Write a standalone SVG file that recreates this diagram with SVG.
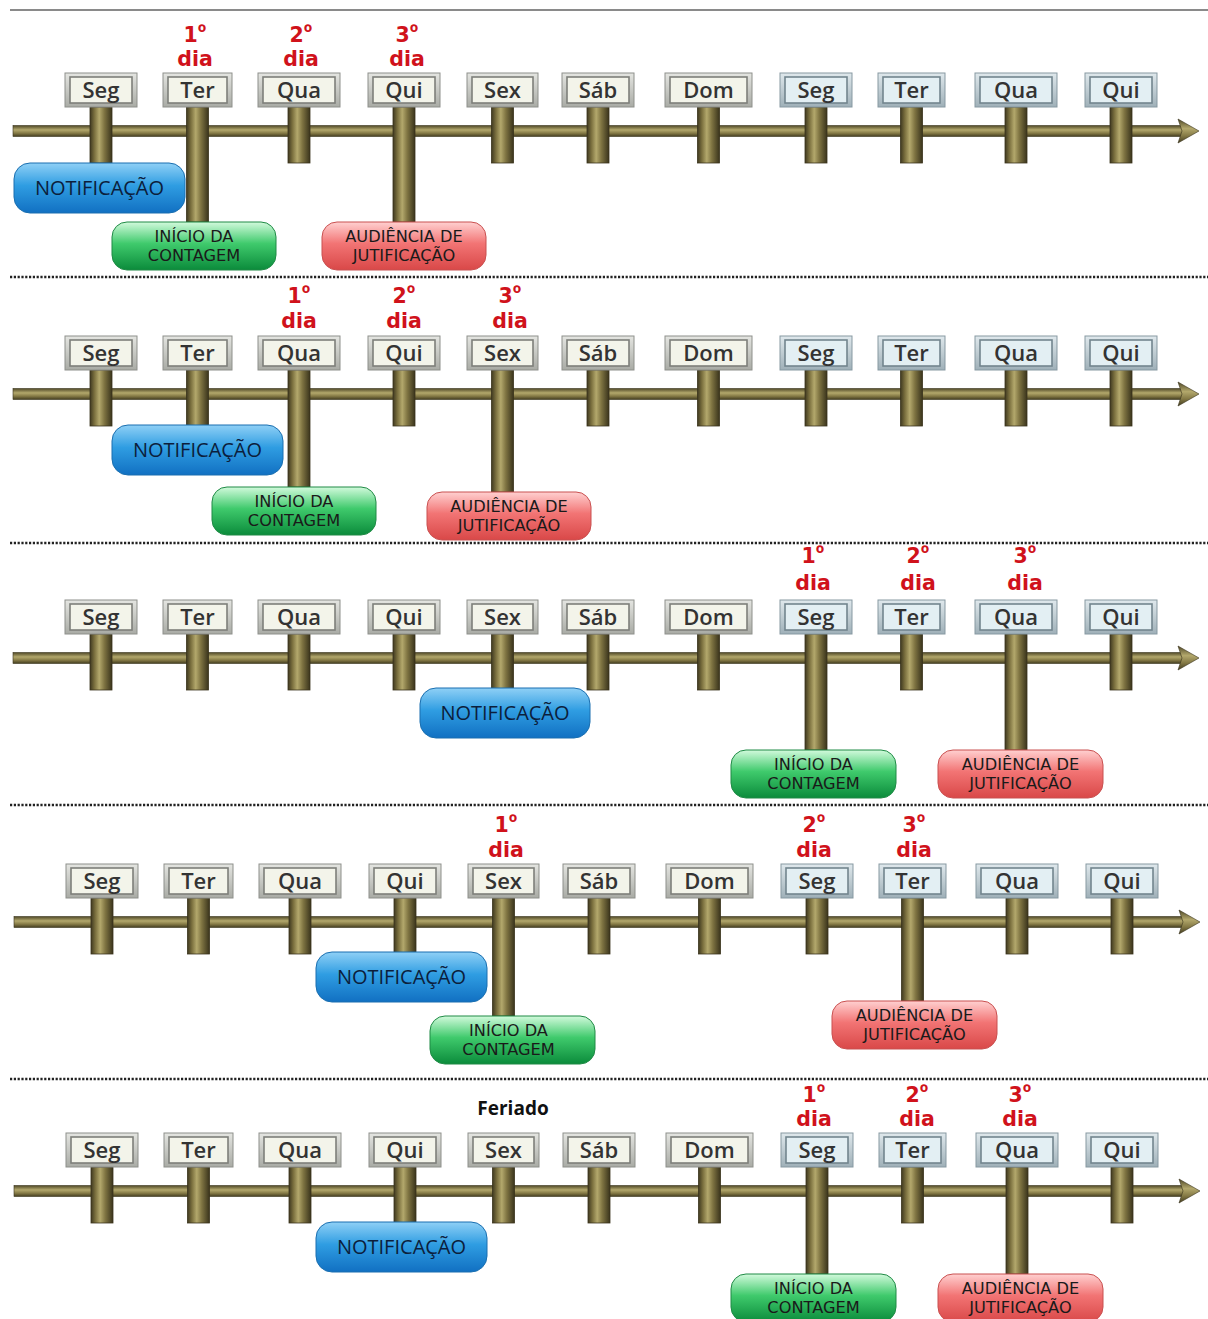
<svg xmlns="http://www.w3.org/2000/svg" width="1208" height="1319" viewBox="0 0 1208 1319">
  <defs>
    <linearGradient id="gPost" x1="0" y1="0" x2="1" y2="0">
      <stop offset="0" stop-color="#3f3920"/>
      <stop offset="0.2" stop-color="#7a6f3e"/>
      <stop offset="0.42" stop-color="#b3a86c"/>
      <stop offset="0.65" stop-color="#7f7442"/>
      <stop offset="1" stop-color="#3a341c"/>
    </linearGradient>
    <linearGradient id="gAxis" x1="0" y1="0" x2="0" y2="1">
      <stop offset="0" stop-color="#4f4827"/>
      <stop offset="0.4" stop-color="#b3a86c"/>
      <stop offset="0.7" stop-color="#847945"/>
      <stop offset="1" stop-color="#433d20"/>
    </linearGradient>
    <linearGradient id="gBlue" x1="0" y1="0" x2="0" y2="1">
      <stop offset="0" stop-color="#8fd0f6"/>
      <stop offset="0.45" stop-color="#2f9de2"/>
      <stop offset="1" stop-color="#1170c2"/>
    </linearGradient>
    <linearGradient id="gGreen" x1="0" y1="0" x2="0" y2="1">
      <stop offset="0" stop-color="#d2fadc"/>
      <stop offset="0.45" stop-color="#3fca6c"/>
      <stop offset="1" stop-color="#0b8b3b"/>
    </linearGradient>
    <linearGradient id="gRed" x1="0" y1="0" x2="0" y2="1">
      <stop offset="0" stop-color="#ffd0d0"/>
      <stop offset="0.45" stop-color="#f27474"/>
      <stop offset="1" stop-color="#d94848"/>
    </linearGradient>
    <linearGradient id="gFrame" x1="0" y1="0" x2="0" y2="1">
      <stop offset="0" stop-color="#e4e5e1"/>
      <stop offset="1" stop-color="#a9aba5"/>
    </linearGradient>
    <linearGradient id="gFrameB" x1="0" y1="0" x2="0" y2="1">
      <stop offset="0" stop-color="#dfe8ec"/>
      <stop offset="1" stop-color="#9fb0b8"/>
    </linearGradient>
  </defs>
  <style>
    .post { fill: url(#gPost); stroke: #3a341c; stroke-width: 0.8; }
    .axis { fill: url(#gAxis); stroke: #3a341c; stroke-width: 0.6; }
    .frame { fill: url(#gFrame); stroke: #8e908b; stroke-width: 1; }
    .frameB { fill: url(#gFrameB); stroke: #8799a2; stroke-width: 1; }
    .inner { fill: #f3f4ea; stroke: #7d7f7a; stroke-width: 1.6; }
    .innerB { fill: #e3eff3; stroke: #72858e; stroke-width: 1.6; }
    .day { font-family: "Open Sans", "Liberation Sans", sans-serif; font-weight: 600; font-size: 22px; fill: #333333; text-anchor: middle; }
    .ord { font-family: "DejaVu Sans", "Liberation Sans", sans-serif; font-weight: 700; font-size: 20.5px; fill: #d0121b; text-anchor: middle; }
    .deg { font-family: "Open Sans", "DejaVu Sans", sans-serif; font-size: 22px; }
    .pill-b { fill: url(#gBlue); stroke: #1a6fb0; stroke-width: 1; }
    .pill-g { fill: url(#gGreen); stroke: #1f8a45; stroke-width: 1; }
    .pill-r { fill: url(#gRed); stroke: #c95050; stroke-width: 1; }
    .tb { font-family: "Open Sans", "Liberation Sans", sans-serif; font-size: 20px; fill: #0c1e3c; text-anchor: middle; }
    .tp { font-family: "DejaVu Sans", "Liberation Sans", sans-serif; font-size: 16.2px; fill: #1a1a1a; text-anchor: middle; }
    .sep { stroke: #222222; stroke-width: 2.6; stroke-dasharray: 2.2 1.6; fill: none; }
    .feriado { font-family: "Open Sans", "Liberation Sans", sans-serif; font-weight: 700; font-size: 19px; fill: #111111; text-anchor: middle; }
  </style>

  <rect x="0" y="0" width="1208" height="1319" fill="#ffffff"/>
  <line x1="10" y1="10" x2="1208" y2="10" stroke="#8a8a8a" stroke-width="2"/>

  <!-- separators between the five timelines -->
  <g id="separators">
    <line class="sep" x1="10" y1="277" x2="1208" y2="277"/>
    <line class="sep" x1="10" y1="543" x2="1208" y2="543"/>
    <line class="sep" x1="10" y1="805" x2="1208" y2="805"/>
    <line class="sep" x1="10" y1="1079" x2="1208" y2="1079"/>
  </g>

  <!-- ===== Timeline 1 ===== -->
  <g id="timeline1" transform="translate(0,73)">
    <g id="t1-connectors">
      <rect class="axis" x="13" y="52.5" width="1170" height="11"/>
      <polygon class="axis" points="1178,46 1199,58 1178,70 1182,58"/>
      <rect class="post" x="90" y="34" width="22" height="56"/>
      <rect class="post" x="186.5" y="34" width="22" height="115"/>
      <rect class="post" x="288" y="34" width="22" height="56"/>
      <rect class="post" x="393" y="34" width="22" height="115"/>
      <rect class="post" x="491.5" y="34" width="22" height="56"/>
      <rect class="post" x="587" y="34" width="22" height="56"/>
      <rect class="post" x="697.5" y="34" width="22" height="56"/>
      <rect class="post" x="805" y="34" width="22" height="56"/>
      <rect class="post" x="900.5" y="34" width="22" height="56"/>
      <rect class="post" x="1005" y="34" width="22" height="56"/>
      <rect class="post" x="1110" y="34" width="22" height="56"/>
    </g>
    <g id="t1-days">
      <g id="t1-seg"><rect class="frame" x="65" y="0" width="72" height="34"/><rect class="inner" x="70" y="4" width="62" height="26"/><text class="day" x="101" y="25">Seg</text></g>
      <g id="t1-ter"><rect class="frame" x="163" y="0" width="69" height="34"/><rect class="inner" x="168" y="4" width="59" height="26"/><text class="day" x="197.5" y="25">Ter</text></g>
      <g id="t1-qua"><rect class="frame" x="258" y="0" width="82" height="34"/><rect class="inner" x="263" y="4" width="72" height="26"/><text class="day" x="299" y="25">Qua</text></g>
      <g id="t1-qui"><rect class="frame" x="368" y="0" width="72" height="34"/><rect class="inner" x="373" y="4" width="62" height="26"/><text class="day" x="404" y="25">Qui</text></g>
      <g id="t1-sex"><rect class="frame" x="467" y="0" width="71" height="34"/><rect class="inner" x="472" y="4" width="61" height="26"/><text class="day" x="502.5" y="25">Sex</text></g>
      <g id="t1-sab"><rect class="frame" x="562" y="0" width="72" height="34"/><rect class="inner" x="567" y="4" width="62" height="26"/><text class="day" x="598" y="25">Sáb</text></g>
      <g id="t1-dom"><rect class="frame" x="665" y="0" width="87" height="34"/><rect class="inner" x="670" y="4" width="77" height="26"/><text class="day" x="708.5" y="25">Dom</text></g>
      <g id="t1-seg2"><rect class="frameB" x="780" y="0" width="72" height="34"/><rect class="innerB" x="785" y="4" width="62" height="26"/><text class="day" x="816" y="25">Seg</text></g>
      <g id="t1-ter2"><rect class="frameB" x="878" y="0" width="67" height="34"/><rect class="innerB" x="883" y="4" width="57" height="26"/><text class="day" x="911.5" y="25">Ter</text></g>
      <g id="t1-qua2"><rect class="frameB" x="975" y="0" width="82" height="34"/><rect class="innerB" x="980" y="4" width="72" height="26"/><text class="day" x="1016" y="25">Qua</text></g>
      <g id="t1-qui2"><rect class="frameB" x="1085" y="0" width="72" height="34"/><rect class="innerB" x="1090" y="4" width="62" height="26"/><text class="day" x="1121" y="25">Qui</text></g>
    </g>
    <g id="t1-count">
      <text class="ord" x="195" y="-31">1<tspan class="deg" dy="-2">º</tspan><tspan x="195" dy="26">dia</tspan></text>
      <text class="ord" x="301" y="-31">2<tspan class="deg" dy="-2">º</tspan><tspan x="301" dy="26">dia</tspan></text>
      <text class="ord" x="407" y="-31">3<tspan class="deg" dy="-2">º</tspan><tspan x="407" dy="26">dia</tspan></text>
    </g>
    <g id="t1-notificacao"><rect class="pill-b" x="14" y="90" width="171" height="50" rx="16"/><text class="tb" x="99.5" y="122">NOTIFICAÇÃO</text></g>
    <g id="t1-inicio"><rect class="pill-g" x="112" y="149" width="164" height="48" rx="15"/><text class="tp" x="194" y="169">INÍCIO DA<tspan x="194" dy="19">CONTAGEM</tspan></text></g>
    <g id="t1-audiencia"><rect class="pill-r" x="322" y="149" width="164" height="48" rx="15"/><text class="tp" x="404" y="169">AUDIÊNCIA DE<tspan x="404" dy="19">JUTIFICAÇÃO</tspan></text></g>
  </g>

  <!-- ===== Timeline 2 ===== -->
  <g id="timeline2" transform="translate(0,336)">
    <g id="t2-connectors">
      <rect class="axis" x="13" y="52.5" width="1170" height="11"/>
      <polygon class="axis" points="1178,46 1199,58 1178,70 1182,58"/>
      <rect class="post" x="90" y="34" width="22" height="56"/>
      <rect class="post" x="186.5" y="34" width="22" height="56"/>
      <rect class="post" x="288" y="34" width="22" height="117"/>
      <rect class="post" x="393" y="34" width="22" height="56"/>
      <rect class="post" x="491.5" y="34" width="22" height="122"/>
      <rect class="post" x="587" y="34" width="22" height="56"/>
      <rect class="post" x="697.5" y="34" width="22" height="56"/>
      <rect class="post" x="805" y="34" width="22" height="56"/>
      <rect class="post" x="900.5" y="34" width="22" height="56"/>
      <rect class="post" x="1005" y="34" width="22" height="56"/>
      <rect class="post" x="1110" y="34" width="22" height="56"/>
    </g>
    <g id="t2-days">
      <g id="t2-seg"><rect class="frame" x="65" y="0" width="72" height="34"/><rect class="inner" x="70" y="4" width="62" height="26"/><text class="day" x="101" y="25">Seg</text></g>
      <g id="t2-ter"><rect class="frame" x="163" y="0" width="69" height="34"/><rect class="inner" x="168" y="4" width="59" height="26"/><text class="day" x="197.5" y="25">Ter</text></g>
      <g id="t2-qua"><rect class="frame" x="258" y="0" width="82" height="34"/><rect class="inner" x="263" y="4" width="72" height="26"/><text class="day" x="299" y="25">Qua</text></g>
      <g id="t2-qui"><rect class="frame" x="368" y="0" width="72" height="34"/><rect class="inner" x="373" y="4" width="62" height="26"/><text class="day" x="404" y="25">Qui</text></g>
      <g id="t2-sex"><rect class="frame" x="467" y="0" width="71" height="34"/><rect class="inner" x="472" y="4" width="61" height="26"/><text class="day" x="502.5" y="25">Sex</text></g>
      <g id="t2-sab"><rect class="frame" x="562" y="0" width="72" height="34"/><rect class="inner" x="567" y="4" width="62" height="26"/><text class="day" x="598" y="25">Sáb</text></g>
      <g id="t2-dom"><rect class="frame" x="665" y="0" width="87" height="34"/><rect class="inner" x="670" y="4" width="77" height="26"/><text class="day" x="708.5" y="25">Dom</text></g>
      <g id="t2-seg2"><rect class="frameB" x="780" y="0" width="72" height="34"/><rect class="innerB" x="785" y="4" width="62" height="26"/><text class="day" x="816" y="25">Seg</text></g>
      <g id="t2-ter2"><rect class="frameB" x="878" y="0" width="67" height="34"/><rect class="innerB" x="883" y="4" width="57" height="26"/><text class="day" x="911.5" y="25">Ter</text></g>
      <g id="t2-qua2"><rect class="frameB" x="975" y="0" width="82" height="34"/><rect class="innerB" x="980" y="4" width="72" height="26"/><text class="day" x="1016" y="25">Qua</text></g>
      <g id="t2-qui2"><rect class="frameB" x="1085" y="0" width="72" height="34"/><rect class="innerB" x="1090" y="4" width="62" height="26"/><text class="day" x="1121" y="25">Qui</text></g>
    </g>
    <g id="t2-count">
      <text class="ord" x="299" y="-33">1<tspan class="deg" dy="-2">º</tspan><tspan x="299" dy="27">dia</tspan></text>
      <text class="ord" x="404" y="-33">2<tspan class="deg" dy="-2">º</tspan><tspan x="404" dy="27">dia</tspan></text>
      <text class="ord" x="510" y="-33">3<tspan class="deg" dy="-2">º</tspan><tspan x="510" dy="27">dia</tspan></text>
    </g>
    <g id="t2-notificacao"><rect class="pill-b" x="112" y="89" width="171" height="50" rx="16"/><text class="tb" x="197.5" y="121">NOTIFICAÇÃO</text></g>
    <g id="t2-inicio"><rect class="pill-g" x="212" y="151" width="164" height="48" rx="15"/><text class="tp" x="294" y="171">INÍCIO DA<tspan x="294" dy="19">CONTAGEM</tspan></text></g>
    <g id="t2-audiencia"><rect class="pill-r" x="427" y="156" width="164" height="48" rx="15"/><text class="tp" x="509" y="176">AUDIÊNCIA DE<tspan x="509" dy="19">JUTIFICAÇÃO</tspan></text></g>
  </g>

  <!-- ===== Timeline 3 ===== -->
  <g id="timeline3" transform="translate(0,600)">
    <g id="t3-connectors">
      <rect class="axis" x="13" y="52.5" width="1170" height="11"/>
      <polygon class="axis" points="1178,46 1199,58 1178,70 1182,58"/>
      <rect class="post" x="90" y="34" width="22" height="56"/>
      <rect class="post" x="186.5" y="34" width="22" height="56"/>
      <rect class="post" x="288" y="34" width="22" height="56"/>
      <rect class="post" x="393" y="34" width="22" height="56"/>
      <rect class="post" x="491.5" y="34" width="22" height="56"/>
      <rect class="post" x="587" y="34" width="22" height="56"/>
      <rect class="post" x="697.5" y="34" width="22" height="56"/>
      <rect class="post" x="805" y="34" width="22" height="116"/>
      <rect class="post" x="900.5" y="34" width="22" height="56"/>
      <rect class="post" x="1005" y="34" width="22" height="116"/>
      <rect class="post" x="1110" y="34" width="22" height="56"/>
    </g>
    <g id="t3-days">
      <g id="t3-seg"><rect class="frame" x="65" y="0" width="72" height="34"/><rect class="inner" x="70" y="4" width="62" height="26"/><text class="day" x="101" y="25">Seg</text></g>
      <g id="t3-ter"><rect class="frame" x="163" y="0" width="69" height="34"/><rect class="inner" x="168" y="4" width="59" height="26"/><text class="day" x="197.5" y="25">Ter</text></g>
      <g id="t3-qua"><rect class="frame" x="258" y="0" width="82" height="34"/><rect class="inner" x="263" y="4" width="72" height="26"/><text class="day" x="299" y="25">Qua</text></g>
      <g id="t3-qui"><rect class="frame" x="368" y="0" width="72" height="34"/><rect class="inner" x="373" y="4" width="62" height="26"/><text class="day" x="404" y="25">Qui</text></g>
      <g id="t3-sex"><rect class="frame" x="467" y="0" width="71" height="34"/><rect class="inner" x="472" y="4" width="61" height="26"/><text class="day" x="502.5" y="25">Sex</text></g>
      <g id="t3-sab"><rect class="frame" x="562" y="0" width="72" height="34"/><rect class="inner" x="567" y="4" width="62" height="26"/><text class="day" x="598" y="25">Sáb</text></g>
      <g id="t3-dom"><rect class="frame" x="665" y="0" width="87" height="34"/><rect class="inner" x="670" y="4" width="77" height="26"/><text class="day" x="708.5" y="25">Dom</text></g>
      <g id="t3-seg2"><rect class="frameB" x="780" y="0" width="72" height="34"/><rect class="innerB" x="785" y="4" width="62" height="26"/><text class="day" x="816" y="25">Seg</text></g>
      <g id="t3-ter2"><rect class="frameB" x="878" y="0" width="67" height="34"/><rect class="innerB" x="883" y="4" width="57" height="26"/><text class="day" x="911.5" y="25">Ter</text></g>
      <g id="t3-qua2"><rect class="frameB" x="975" y="0" width="82" height="34"/><rect class="innerB" x="980" y="4" width="72" height="26"/><text class="day" x="1016" y="25">Qua</text></g>
      <g id="t3-qui2"><rect class="frameB" x="1085" y="0" width="72" height="34"/><rect class="innerB" x="1090" y="4" width="62" height="26"/><text class="day" x="1121" y="25">Qui</text></g>
    </g>
    <g id="t3-count">
      <text class="ord" x="813" y="-37">1<tspan class="deg" dy="-2">º</tspan><tspan x="813" dy="29">dia</tspan></text>
      <text class="ord" x="918" y="-37">2<tspan class="deg" dy="-2">º</tspan><tspan x="918" dy="29">dia</tspan></text>
      <text class="ord" x="1025" y="-37">3<tspan class="deg" dy="-2">º</tspan><tspan x="1025" dy="29">dia</tspan></text>
    </g>
    <g id="t3-notificacao"><rect class="pill-b" x="420" y="88" width="170" height="50" rx="16"/><text class="tb" x="505" y="120">NOTIFICAÇÃO</text></g>
    <g id="t3-inicio"><rect class="pill-g" x="731" y="150" width="165" height="48" rx="15"/><text class="tp" x="813.5" y="170">INÍCIO DA<tspan x="813.5" dy="19">CONTAGEM</tspan></text></g>
    <g id="t3-audiencia"><rect class="pill-r" x="938" y="150" width="165" height="48" rx="15"/><text class="tp" x="1020.5" y="170">AUDIÊNCIA DE<tspan x="1020.5" dy="19">JUTIFICAÇÃO</tspan></text></g>
  </g>

  <!-- ===== Timeline 4 ===== -->
  <g id="timeline4" transform="translate(1,864)">
    <g id="t4-connectors">
      <rect class="axis" x="13" y="52.5" width="1170" height="11"/>
      <polygon class="axis" points="1178,46 1199,58 1178,70 1182,58"/>
      <rect class="post" x="90" y="34" width="22" height="56"/>
      <rect class="post" x="186.5" y="34" width="22" height="56"/>
      <rect class="post" x="288" y="34" width="22" height="56"/>
      <rect class="post" x="393" y="34" width="22" height="56"/>
      <rect class="post" x="491.5" y="34" width="22" height="118"/>
      <rect class="post" x="587" y="34" width="22" height="56"/>
      <rect class="post" x="697.5" y="34" width="22" height="56"/>
      <rect class="post" x="805" y="34" width="22" height="56"/>
      <rect class="post" x="900.5" y="34" width="22" height="103"/>
      <rect class="post" x="1005" y="34" width="22" height="56"/>
      <rect class="post" x="1110" y="34" width="22" height="56"/>
    </g>
    <g id="t4-days">
      <g id="t4-seg"><rect class="frame" x="65" y="0" width="72" height="34"/><rect class="inner" x="70" y="4" width="62" height="26"/><text class="day" x="101" y="25">Seg</text></g>
      <g id="t4-ter"><rect class="frame" x="163" y="0" width="69" height="34"/><rect class="inner" x="168" y="4" width="59" height="26"/><text class="day" x="197.5" y="25">Ter</text></g>
      <g id="t4-qua"><rect class="frame" x="258" y="0" width="82" height="34"/><rect class="inner" x="263" y="4" width="72" height="26"/><text class="day" x="299" y="25">Qua</text></g>
      <g id="t4-qui"><rect class="frame" x="368" y="0" width="72" height="34"/><rect class="inner" x="373" y="4" width="62" height="26"/><text class="day" x="404" y="25">Qui</text></g>
      <g id="t4-sex"><rect class="frame" x="467" y="0" width="71" height="34"/><rect class="inner" x="472" y="4" width="61" height="26"/><text class="day" x="502.5" y="25">Sex</text></g>
      <g id="t4-sab"><rect class="frame" x="562" y="0" width="72" height="34"/><rect class="inner" x="567" y="4" width="62" height="26"/><text class="day" x="598" y="25">Sáb</text></g>
      <g id="t4-dom"><rect class="frame" x="665" y="0" width="87" height="34"/><rect class="inner" x="670" y="4" width="77" height="26"/><text class="day" x="708.5" y="25">Dom</text></g>
      <g id="t4-seg2"><rect class="frameB" x="780" y="0" width="72" height="34"/><rect class="innerB" x="785" y="4" width="62" height="26"/><text class="day" x="816" y="25">Seg</text></g>
      <g id="t4-ter2"><rect class="frameB" x="878" y="0" width="67" height="34"/><rect class="innerB" x="883" y="4" width="57" height="26"/><text class="day" x="911.5" y="25">Ter</text></g>
      <g id="t4-qua2"><rect class="frameB" x="975" y="0" width="82" height="34"/><rect class="innerB" x="980" y="4" width="72" height="26"/><text class="day" x="1016" y="25">Qua</text></g>
      <g id="t4-qui2"><rect class="frameB" x="1085" y="0" width="72" height="34"/><rect class="innerB" x="1090" y="4" width="62" height="26"/><text class="day" x="1121" y="25">Qui</text></g>
    </g>
    <g id="t4-count">
      <text class="ord" x="505" y="-32">1<tspan class="deg" dy="-2">º</tspan><tspan x="505" dy="27">dia</tspan></text>
      <text class="ord" x="813" y="-32">2<tspan class="deg" dy="-2">º</tspan><tspan x="813" dy="27">dia</tspan></text>
      <text class="ord" x="913" y="-32">3<tspan class="deg" dy="-2">º</tspan><tspan x="913" dy="27">dia</tspan></text>
    </g>
    <g id="t4-notificacao"><rect class="pill-b" x="315" y="88" width="171" height="50" rx="16"/><text class="tb" x="400.5" y="120">NOTIFICAÇÃO</text></g>
    <g id="t4-inicio"><rect class="pill-g" x="429" y="152" width="165" height="48" rx="15"/><text class="tp" x="507.5" y="172">INÍCIO DA<tspan x="507.5" dy="19">CONTAGEM</tspan></text></g>
    <g id="t4-audiencia"><rect class="pill-r" x="831" y="137" width="165" height="48" rx="15"/><text class="tp" x="913.5" y="157">AUDIÊNCIA DE<tspan x="913.5" dy="19">JUTIFICAÇÃO</tspan></text></g>
  </g>

  <!-- ===== Timeline 5 (holiday on Friday) ===== -->
  <g id="timeline5" transform="translate(1,1133)">
    <g id="t5-connectors">
      <rect class="axis" x="13" y="52.5" width="1170" height="11"/>
      <polygon class="axis" points="1178,46 1199,58 1178,70 1182,58"/>
      <rect class="post" x="90" y="34" width="22" height="56"/>
      <rect class="post" x="186.5" y="34" width="22" height="56"/>
      <rect class="post" x="288" y="34" width="22" height="56"/>
      <rect class="post" x="393" y="34" width="22" height="56"/>
      <rect class="post" x="491.5" y="34" width="22" height="56"/>
      <rect class="post" x="587" y="34" width="22" height="56"/>
      <rect class="post" x="697.5" y="34" width="22" height="56"/>
      <rect class="post" x="805" y="34" width="22" height="107"/>
      <rect class="post" x="900.5" y="34" width="22" height="56"/>
      <rect class="post" x="1005" y="34" width="22" height="107"/>
      <rect class="post" x="1110" y="34" width="22" height="56"/>
    </g>
    <text class="feriado" x="512" y="-18">Feriado</text>
    <g id="t5-days">
      <g id="t5-seg"><rect class="frame" x="65" y="0" width="72" height="34"/><rect class="inner" x="70" y="4" width="62" height="26"/><text class="day" x="101" y="25">Seg</text></g>
      <g id="t5-ter"><rect class="frame" x="163" y="0" width="69" height="34"/><rect class="inner" x="168" y="4" width="59" height="26"/><text class="day" x="197.5" y="25">Ter</text></g>
      <g id="t5-qua"><rect class="frame" x="258" y="0" width="82" height="34"/><rect class="inner" x="263" y="4" width="72" height="26"/><text class="day" x="299" y="25">Qua</text></g>
      <g id="t5-qui"><rect class="frame" x="368" y="0" width="72" height="34"/><rect class="inner" x="373" y="4" width="62" height="26"/><text class="day" x="404" y="25">Qui</text></g>
      <g id="t5-sex"><rect class="frame" x="467" y="0" width="71" height="34"/><rect class="inner" x="472" y="4" width="61" height="26"/><text class="day" x="502.5" y="25">Sex</text></g>
      <g id="t5-sab"><rect class="frame" x="562" y="0" width="72" height="34"/><rect class="inner" x="567" y="4" width="62" height="26"/><text class="day" x="598" y="25">Sáb</text></g>
      <g id="t5-dom"><rect class="frame" x="665" y="0" width="87" height="34"/><rect class="inner" x="670" y="4" width="77" height="26"/><text class="day" x="708.5" y="25">Dom</text></g>
      <g id="t5-seg2"><rect class="frameB" x="780" y="0" width="72" height="34"/><rect class="innerB" x="785" y="4" width="62" height="26"/><text class="day" x="816" y="25">Seg</text></g>
      <g id="t5-ter2"><rect class="frameB" x="878" y="0" width="67" height="34"/><rect class="innerB" x="883" y="4" width="57" height="26"/><text class="day" x="911.5" y="25">Ter</text></g>
      <g id="t5-qua2"><rect class="frameB" x="975" y="0" width="82" height="34"/><rect class="innerB" x="980" y="4" width="72" height="26"/><text class="day" x="1016" y="25">Qua</text></g>
      <g id="t5-qui2"><rect class="frameB" x="1085" y="0" width="72" height="34"/><rect class="innerB" x="1090" y="4" width="62" height="26"/><text class="day" x="1121" y="25">Qui</text></g>
    </g>
    <g id="t5-count">
      <text class="ord" x="813" y="-31">1<tspan class="deg" dy="-2">º</tspan><tspan x="813" dy="26">dia</tspan></text>
      <text class="ord" x="916" y="-31">2<tspan class="deg" dy="-2">º</tspan><tspan x="916" dy="26">dia</tspan></text>
      <text class="ord" x="1019" y="-31">3<tspan class="deg" dy="-2">º</tspan><tspan x="1019" dy="26">dia</tspan></text>
    </g>
    <g id="t5-notificacao"><rect class="pill-b" x="315" y="89" width="171" height="50" rx="16"/><text class="tb" x="400.5" y="121">NOTIFICAÇÃO</text></g>
    <g id="t5-inicio"><rect class="pill-g" x="730" y="141" width="165" height="48" rx="15"/><text class="tp" x="812.5" y="161">INÍCIO DA<tspan x="812.5" dy="19">CONTAGEM</tspan></text></g>
    <g id="t5-audiencia"><rect class="pill-r" x="937" y="141" width="165" height="48" rx="15"/><text class="tp" x="1019.5" y="161">AUDIÊNCIA DE<tspan x="1019.5" dy="19">JUTIFICAÇÃO</tspan></text></g>
  </g>
</svg>
